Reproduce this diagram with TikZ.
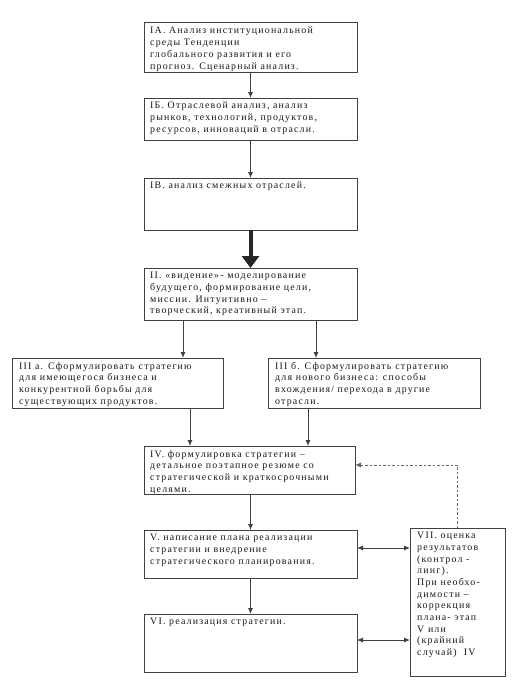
\documentclass[tikz,border=0pt]{standalone}
\usepackage{fontspec}
\setmainfont{Liberation Serif}[LetterSpace=12]
\usetikzlibrary{arrows.meta}
\begin{document}
\begin{tikzpicture}[x=1pt,y=-1pt,
  box/.style={draw=black!75, line width=0.9pt, rectangle, inner sep=0pt, outer sep=0pt, anchor=north west},
  txt/.style={anchor=north west, inner sep=0pt, align=left, font=\fontsize{9.9}{11.7}\selectfont, text=black!90},
  arr/.style={draw=black!75, line width=0.9pt, -{Latex[length=6pt,width=5pt]}},
  dbl/.style={draw=black!75, line width=0.9pt, {Latex[length=6pt,width=5pt]}-{Latex[length=6pt,width=5pt]}},
  bigarr/.style={draw=black!85, line width=4pt, -{Triangle[length=12pt,width=17pt]}},
  dsh/.style={draw=black!60, line width=0.9pt, dash pattern=on 2.5pt off 2pt, -{Latex[length=6pt,width=5pt]}}]
\useasboundingbox (0,0) rectangle (516,694);
\fill[white] (0,0) rectangle (516,694);
% boxes
\node[box, minimum width=213pt, minimum height=50pt] (ia) at (144,22) {};
\node[box, minimum width=213pt, minimum height=42pt] (ib) at (144,98) {};
\node[box, minimum width=213pt, minimum height=52pt] (iv1) at (144,178) {};
\node[box, minimum width=213pt, minimum height=52pt] (ii) at (144,268) {};
\node[box, minimum width=211pt, minimum height=50pt] (iiia) at (12,358) {};
\node[box, minimum width=212pt, minimum height=50pt] (iiib) at (268,358) {};
\node[box, minimum width=211pt, minimum height=48pt] (iv) at (144,446) {};
\node[box, minimum width=213pt, minimum height=48pt] (v) at (144,530) {};
\node[box, minimum width=213pt, minimum height=58pt] (vi) at (144,614) {};
\node[box, minimum width=95pt, minimum height=148pt] (vii) at (410,528) {};
% texts
\node[txt] (tia) at (150,27) {IA. Анализ институциональной\\среды Тенденции\\глобального развития и его\\прогноз. Сценарный анализ.};
\node[txt] (tib) at (150,102) {IБ. Отраслевой анализ, анализ\\рынков, технологий, продуктов,\\ресурсов, инноваций в отрасли.};
\node[txt] (tiv1) at (150,182) {IВ. анализ смежных отраслей.};
\node[txt] (tii) at (150,272) {II. «видение»- моделирование\\будущего, формирование цели,\\миссии. Интуитивно –\\творческий, креативный этап.};
\node[txt] (tiiia) at (19,362) {III а. Сформулировать\hspace{4pt}стратегию\\для имеющегося бизнеса и\\конкурентной борьбы для\\существующих продуктов.};
\node[txt] (tiiib) at (275,362) {III б. Сформулировать\hspace{4pt}стратегию\\для нового бизнеса: способы\\вхождения/ перехода в другие\\отрасли.};
\node[txt] (tiv) at (150,450) {IV. формулировка стратегии –\\детальное поэтапное резюме со\\стратегической и краткосрочными\\целями.};
\node[txt] (tv) at (150,534) {V. написание плана реализации\\стратегии и внедрение\\стратегического планирования.};
\node[txt] (tvi) at (150,618) {VI. реализация стратегии.};
\node[txt] (tvii) at (417,532) {VII. оценка\\результатов\\(контрол -\\линг).\\При необхо-\\димости –\\коррекция\\плана- этап\\V или\\(крайний\\случай)\ \ IV};
% connectors
\draw[arr] (ia.south) -- (ib.north);
\draw[arr] (ib.south) -- (iv1.north);
\draw[bigarr] (iv1.south) -- (ii.north);
\path (ii.south west) ++(39,0) coordinate (p1);
\path (ii.south west) ++(172,0) coordinate (p2);
\draw[arr] (p1) -- (p1 |- iiia.north);
\draw[arr] (p2) -- (p2 |- iiib.north);
\path (iiia.south west) ++(178,0) coordinate (p3);
\path (iiib.south west) ++(40,0) coordinate (p4);
\draw[arr] (p3) -- (p3 |- iv.north);
\draw[arr] (p4) -- (p4 |- iv.north);
\draw[arr] (iv.south -| v.north) -- (v.north);
\draw[arr] (v.south) -- (vi.north);
\path (v.north east) ++(0,18) coordinate (p5);
\draw[dbl] (p5) -- (p5 -| vii.west);
\path (vi.north east) ++(0,26) coordinate (p6);
\draw[dbl] (p6) -- (p6 -| vii.west);
\path (iv.north east) ++(0,19) coordinate (p7);
\draw[dsh] (vii.north) |- (p7);
\end{tikzpicture}
\end{document}
